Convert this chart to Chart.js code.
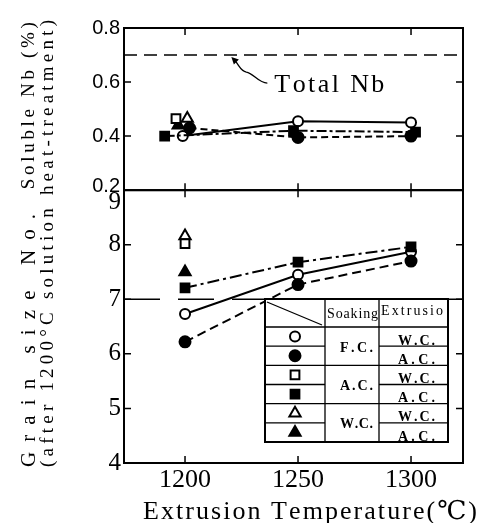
<!DOCTYPE html>
<html><head><meta charset="utf-8">
<script src="https://cdn.jsdelivr.net/npm/chart.js@4/dist/chart.umd.min.js"></script>
<style>html,body{margin:0;padding:0;background:#fff;}canvas{display:block;}</style>
</head><body>
<canvas id="c" width="479" height="523"></canvas>
<script>
// ---------- data ----------
const xTicks = [1200, 1250, 1300];
const nbTicks = [0.2, 0.4, 0.6, 0.8];
const grainTicks = [4, 5, 6, 7, 8, 9];
const xTitle = 'Extrusion Temperature(℃)';
const nbTitle = 'Soluble Nb (%)';
const grainTitle = ['Grain size No.', '(after 1200°C solution heat-treatment)'];
const totalNbLabel = 'Total Nb';
const totalNb = 0.70;
const grainRef = 7;

// Soluble Nb (%) – x positions as plotted (markers slightly shifted at 1200)
const nbFcWcX = [1199, 1250, 1300], nbFcWc = [0.40, 0.455, 0.45];
const nbFcAcX = [1202, 1250, 1300], nbFcAc = [0.43, 0.395, 0.40];
const nbAcWcX = [1196], nbAcWc = [0.465];
const nbAcAcX = [1191, 1248, 1302], nbAcAc = [0.40, 0.42, 0.415];
const nbWcWcX = [1201], nbWcWc = [0.465];
const nbWcAcX = [1197], nbWcAc = [0.44];

// Grain size No.
const gFcWcX = [1200, 1250, 1300], gFcWc = [6.73, 7.45, 7.87];
const gFcAcX = [1200, 1250, 1300], gFcAc = [6.22, 7.27, 7.70];
const gAcWcX = [1200], gAcWc = [8.02];
const gAcAcX = [1200, 1250, 1300], gAcAc = [7.21, 7.68, 7.96];
const gWcWcX = [1200], gWcWc = [8.16];
const gWcAcX = [1200], gWcAc = [7.50];

// legend table
const soakingLabels = ['F.C.', 'A.C.', 'W.C.'];
const extrusionLabels = ['W.C.', 'A.C.'];
const tableHead = ['Soaking', 'Extrusio', '-n'];

// ---------- helpers ----------
const pts = (xs, ys) => xs.map((v, i) => ({x: v, y: ys[i]}));
const SERIF = '"Liberation Serif", "DejaVu Serif", "Noto Sans CJK JP", serif';
const SANS = '"Liberation Sans", Arial, sans-serif';

const styles = {
  fcwc: {pointStyle: 'circle', pointRadius: 5, pointBackgroundColor: '#fff', dash: []},
  fcac: {pointStyle: 'circle', pointRadius: 5.5, pointBackgroundColor: '#000', dash: [9, 5]},
  acwc: {pointStyle: 'rect', pointRadius: 6.2, pointBackgroundColor: '#fff', dash: []},
  acac: {pointStyle: 'rect', pointRadius: 6.2, pointBackgroundColor: '#000', dash: [12, 4, 3, 4]},
  wcwc: {pointStyle: 'triangle', pointRadius: 6.5, pointBackgroundColor: '#fff', dash: []},
  wcac: {pointStyle: 'triangle', pointRadius: 6.5, pointBackgroundColor: '#000', dash: []}
};
function ds(key, data, axis, showLine, dashOverride) {
  const s = styles[key];
  return {
    key, data, yAxisID: axis, showLine,
    borderColor: '#000', borderWidth: 2, borderDash: dashOverride || s.dash,
    pointStyle: s.pointStyle, pointRadius: s.pointRadius, pointHoverRadius: s.pointRadius,
    pointBackgroundColor: s.pointBackgroundColor, pointBorderColor: '#000', pointBorderWidth: 2,
    fill: false, tension: 0
  };
}

function spacedText(ctx, text, x, y, target) {
  const chars = Array.from(text);
  const w = chars.map(c => ctx.measureText(c).width);
  const total = w.reduce((a, b) => a + b, 0);
  const gap = chars.length > 1 ? (target - total) / (chars.length - 1) : 0;
  let cx = x;
  chars.forEach((c, i) => { ctx.fillText(c, cx, y); cx += w[i] + gap; });
}

// ---------- plugins ----------
const framePlugin = {
  id: 'frame',
  afterDatasetsDraw(chart) {
    const {ctx} = chart;
    const x = chart.scales.x;
    const TL = 7;
    ctx.save();
    ctx.strokeStyle = '#000';
    ctx.setLineDash([]);
    [chart.scales.yTop, chart.scales.yBot].forEach(ys => {
      const t = ys.top, b = ys.bottom, l = x.left, r = x.right;
      ctx.lineWidth = 1.5;
      ctx.beginPath();
      x.ticks.forEach(tk => {
        const px = x.getPixelForValue(tk.value);
        ctx.moveTo(px, t); ctx.lineTo(px, t + TL);
        ctx.moveTo(px, b); ctx.lineTo(px, b - TL);
      });
      ys.ticks.forEach(tk => {
        if (tk.value === ys.min || tk.value === ys.max) return;
        const py = ys.getPixelForValue(tk.value);
        ctx.moveTo(l, py); ctx.lineTo(l + TL, py);
        ctx.moveTo(r, py); ctx.lineTo(r - TL, py);
      });
      ctx.stroke();
      ctx.lineWidth = 2;
      ctx.strokeRect(l, t, r - l, b - t);
    });
    ctx.restore();
  },
  afterDraw(chart) {
    const {ctx} = chart;
    const x = chart.scales.x, yT = chart.scales.yTop, yB = chart.scales.yBot;
    ctx.save();
    ctx.fillStyle = '#000';
    ctx.strokeStyle = '#000';
    // axis titles (rotated, reading bottom-to-top)
    ctx.textAlign = 'left';
    ctx.textBaseline = 'alphabetic';
    const rot = (bx, startY, text, len, font) => {
      ctx.save(); ctx.font = font; ctx.translate(bx, startY); ctx.rotate(-Math.PI / 2);
      spacedText(ctx, text, 0, 0, len); ctx.restore();
    };
    rot(34, yT.bottom - 1, nbTitle, 167, '19px ' + SERIF);
    rot(35, yB.bottom + 4, grainTitle[0], 253, '21px ' + SERIF);
    rot(53, yB.bottom + 4, grainTitle[1], 447, '19px ' + SERIF);
    // x title
    ctx.font = '26px ' + SERIF;
    spacedText(ctx, xTitle, x.left + 19, 519, 334);

    // Total Nb annotation
    const tipX = x.getPixelForValue(1220.5), tipY = yT.getPixelForValue(totalNb) + 2;
    ctx.font = '26px ' + SERIF;
    spacedText(ctx, totalNbLabel, tipX + 43, tipY + 35, 110);
    ctx.lineWidth = 1.3;
    ctx.beginPath();
    ctx.moveTo(tipX + 36, tipY + 26);
    ctx.bezierCurveTo(tipX + 27, tipY + 26, tipX + 22, tipY + 16, tipX + 15, tipY + 15);
    ctx.bezierCurveTo(tipX + 9, tipY + 14, tipX + 8, tipY + 8, tipX + 3, tipY + 3);
    ctx.stroke();
    ctx.beginPath();
    ctx.moveTo(tipX, tipY);
    ctx.lineTo(tipX + 7.5, tipY + 2.5);
    ctx.lineTo(tipX + 2.5, tipY + 7.5);
    ctx.closePath();
    ctx.fill();

    // legend table
    const L = 265, C1 = 325, C2 = 379, R = 448, T = 299, H = 327, B = 442;
    const rh = (B - H) / 6;
    ctx.fillStyle = '#fff';
    ctx.fillRect(L, T, R - L, B - T);
    ctx.fillStyle = '#000';
    ctx.lineWidth = 1.3;
    ctx.beginPath();
    ctx.moveTo(C1, T); ctx.lineTo(C1, B);
    ctx.moveTo(C2, T); ctx.lineTo(C2, B);
    ctx.moveTo(L, H); ctx.lineTo(R, H);
    for (let i = 1; i < 6; i++) {
      const yy = H + rh * i;
      ctx.moveTo(L, yy); ctx.lineTo(C1, yy);
      ctx.moveTo(C2, yy); ctx.lineTo(R, yy);
      if (i % 2 === 0) { ctx.moveTo(C1, yy); ctx.lineTo(C2, yy); }
    }
    ctx.moveTo(L + 2, T + 3); ctx.lineTo(C1 - 3, H - 2);
    ctx.stroke();
    ctx.lineWidth = 2;
    ctx.strokeRect(L, T, R - L, B - T);

    ctx.textBaseline = 'alphabetic';
    ctx.font = '14px ' + SERIF;
    spacedText(ctx, tableHead[0], C1 + 2, 318, 51);
    spacedText(ctx, tableHead[1], C2 + 2, 315, 62);
    ctx.save();
    ctx.beginPath(); ctx.rect(C2 + 1, H - 12, R - C2 - 2, 11); ctx.clip();
    spacedText(ctx, tableHead[2], C2 + 4, 333, 12);
    ctx.restore();

    ctx.font = 'bold 14px ' + SERIF;
    soakingLabels.forEach((s, i) => {
      const cy = H + rh * (2 * i + 1);
      ctx.textBaseline = 'middle';
      spacedText(ctx, s, C1 + 15, cy + 2, 33);
    });
    ctx.textBaseline = 'alphabetic';
    for (let i = 0; i < 6; i++) {
      spacedText(ctx, extrusionLabels[i % 2], C2 + 19, H + rh * (i + 1) - 1.5, 37);
    }
    // symbols from datasets (bottom panel)
    const keys = ['fcwc', 'fcac', 'acwc', 'acac', 'wcwc', 'wcac'];
    keys.forEach((k, i) => {
      const d = chart.data.datasets.find(dd => dd.key === k && dd.yAxisID === 'yBot');
      const cy = H + rh * (i + 0.5);
      ctx.fillStyle = d.pointBackgroundColor;
      ctx.strokeStyle = '#000';
      ctx.lineWidth = 2;
      ctx.setLineDash([]);
      Chart.helpers.drawPoint(ctx, {pointStyle: d.pointStyle, radius: d.pointRadius, borderWidth: 2, rotation: 0}, 295, cy);
    });
    ctx.restore();
  }
};

// ---------- chart ----------
const datasets = [
  {key: 'totalNb', data: [{x: 1173, y: totalNb}, {x: 1323, y: totalNb}], yAxisID: 'yTop', borderColor: '#000', borderWidth: 1.5, borderDash: [13, 7], pointRadius: 0, showLine: true},
  {key: 'ref7', data: [{x: 1173, y: grainRef}, {x: 1323, y: grainRef}], yAxisID: 'yBot', borderColor: '#000', borderWidth: 1.5, borderDash: [36, 18], pointRadius: 0, showLine: true},
  ds('acac', pts(nbAcAcX, nbAcAc), 'yTop', true, [10, 3, 3, 3]),
  ds('fcac', pts(nbFcAcX, nbFcAc), 'yTop', true, [7, 4]),
  ds('fcwc', pts(nbFcWcX, nbFcWc), 'yTop', true),
  ds('acwc', pts(nbAcWcX, nbAcWc), 'yTop', false),
  ds('wcwc', pts(nbWcWcX, nbWcWc), 'yTop', false),
  ds('wcac', pts(nbWcAcX, nbWcAc), 'yTop', false),
  ds('acac', pts(gAcAcX, gAcAc), 'yBot', true),
  ds('fcac', pts(gFcAcX, gFcAc), 'yBot', true),
  ds('fcwc', pts(gFcWcX, gFcWc), 'yBot', true),
  ds('acwc', pts(gAcWcX, gAcWc), 'yBot', false),
  ds('wcwc', pts(gWcWcX, gWcWc), 'yBot', false),
  ds('wcac', pts(gWcAcX, gWcAc), 'yBot', false)
];

new Chart(document.getElementById('c'), {
  type: 'scatter',
  data: {datasets},
  options: {
    responsive: false,
    animation: false,
    devicePixelRatio: 1,
    events: [],
    layout: {padding: {top: 15, right: 16, left: 0, bottom: 0}},
    plugins: {legend: {display: false}, tooltip: {enabled: false}, title: {display: false}},
    scales: {
      x: {
        type: 'linear', position: 'bottom', min: 1173, max: 1323,
        afterBuildTicks: s => { s.ticks = xTicks.map(v => ({value: v})); },
        afterFit: s => { s.height = 60; },
        grid: {display: false, drawTicks: false}, border: {display: false},
        ticks: {autoSkip: false, maxRotation: 0, padding: 4, color: '#000',
          font: {family: SERIF, size: 26, lineHeight: 1},
          callback: v => String(v)}
      },
      yTop: {
        type: 'linear', position: 'left', stack: 'panels', stackWeight: 167, weight: 1,
        min: 0.2, max: 0.8,
        afterBuildTicks: s => { s.ticks = nbTicks.map(v => ({value: v})); },
        afterFit: s => { s.width = 124; },
        grid: {display: false, drawTicks: false}, border: {display: false},
        ticks: {autoSkip: false, padding: 4, color: '#000',
          font: {family: SANS, size: 20, lineHeight: 0.4},
          callback: v => Math.abs(v - 0.2) < 1e-9 ? ['0.2', ''] : Number(v).toFixed(1)}
      },
      yBot: {
        type: 'linear', position: 'left', stack: 'panels', stackWeight: 281, weight: 0,
        min: 4, max: 9,
        afterBuildTicks: s => { s.ticks = grainTicks.map(v => ({value: v})); },
        afterFit: s => { s.width = 124; },
        grid: {display: false, drawTicks: false}, border: {display: false},
        ticks: {autoSkip: false, padding: 3, color: '#000',
          font: {family: SERIF, size: 25, lineHeight: 1},
          callback: v => v === 9 ? ['', '9'] : String(v)}
      }
    }
  },
  plugins: [framePlugin]
});
</script>
</body></html>
